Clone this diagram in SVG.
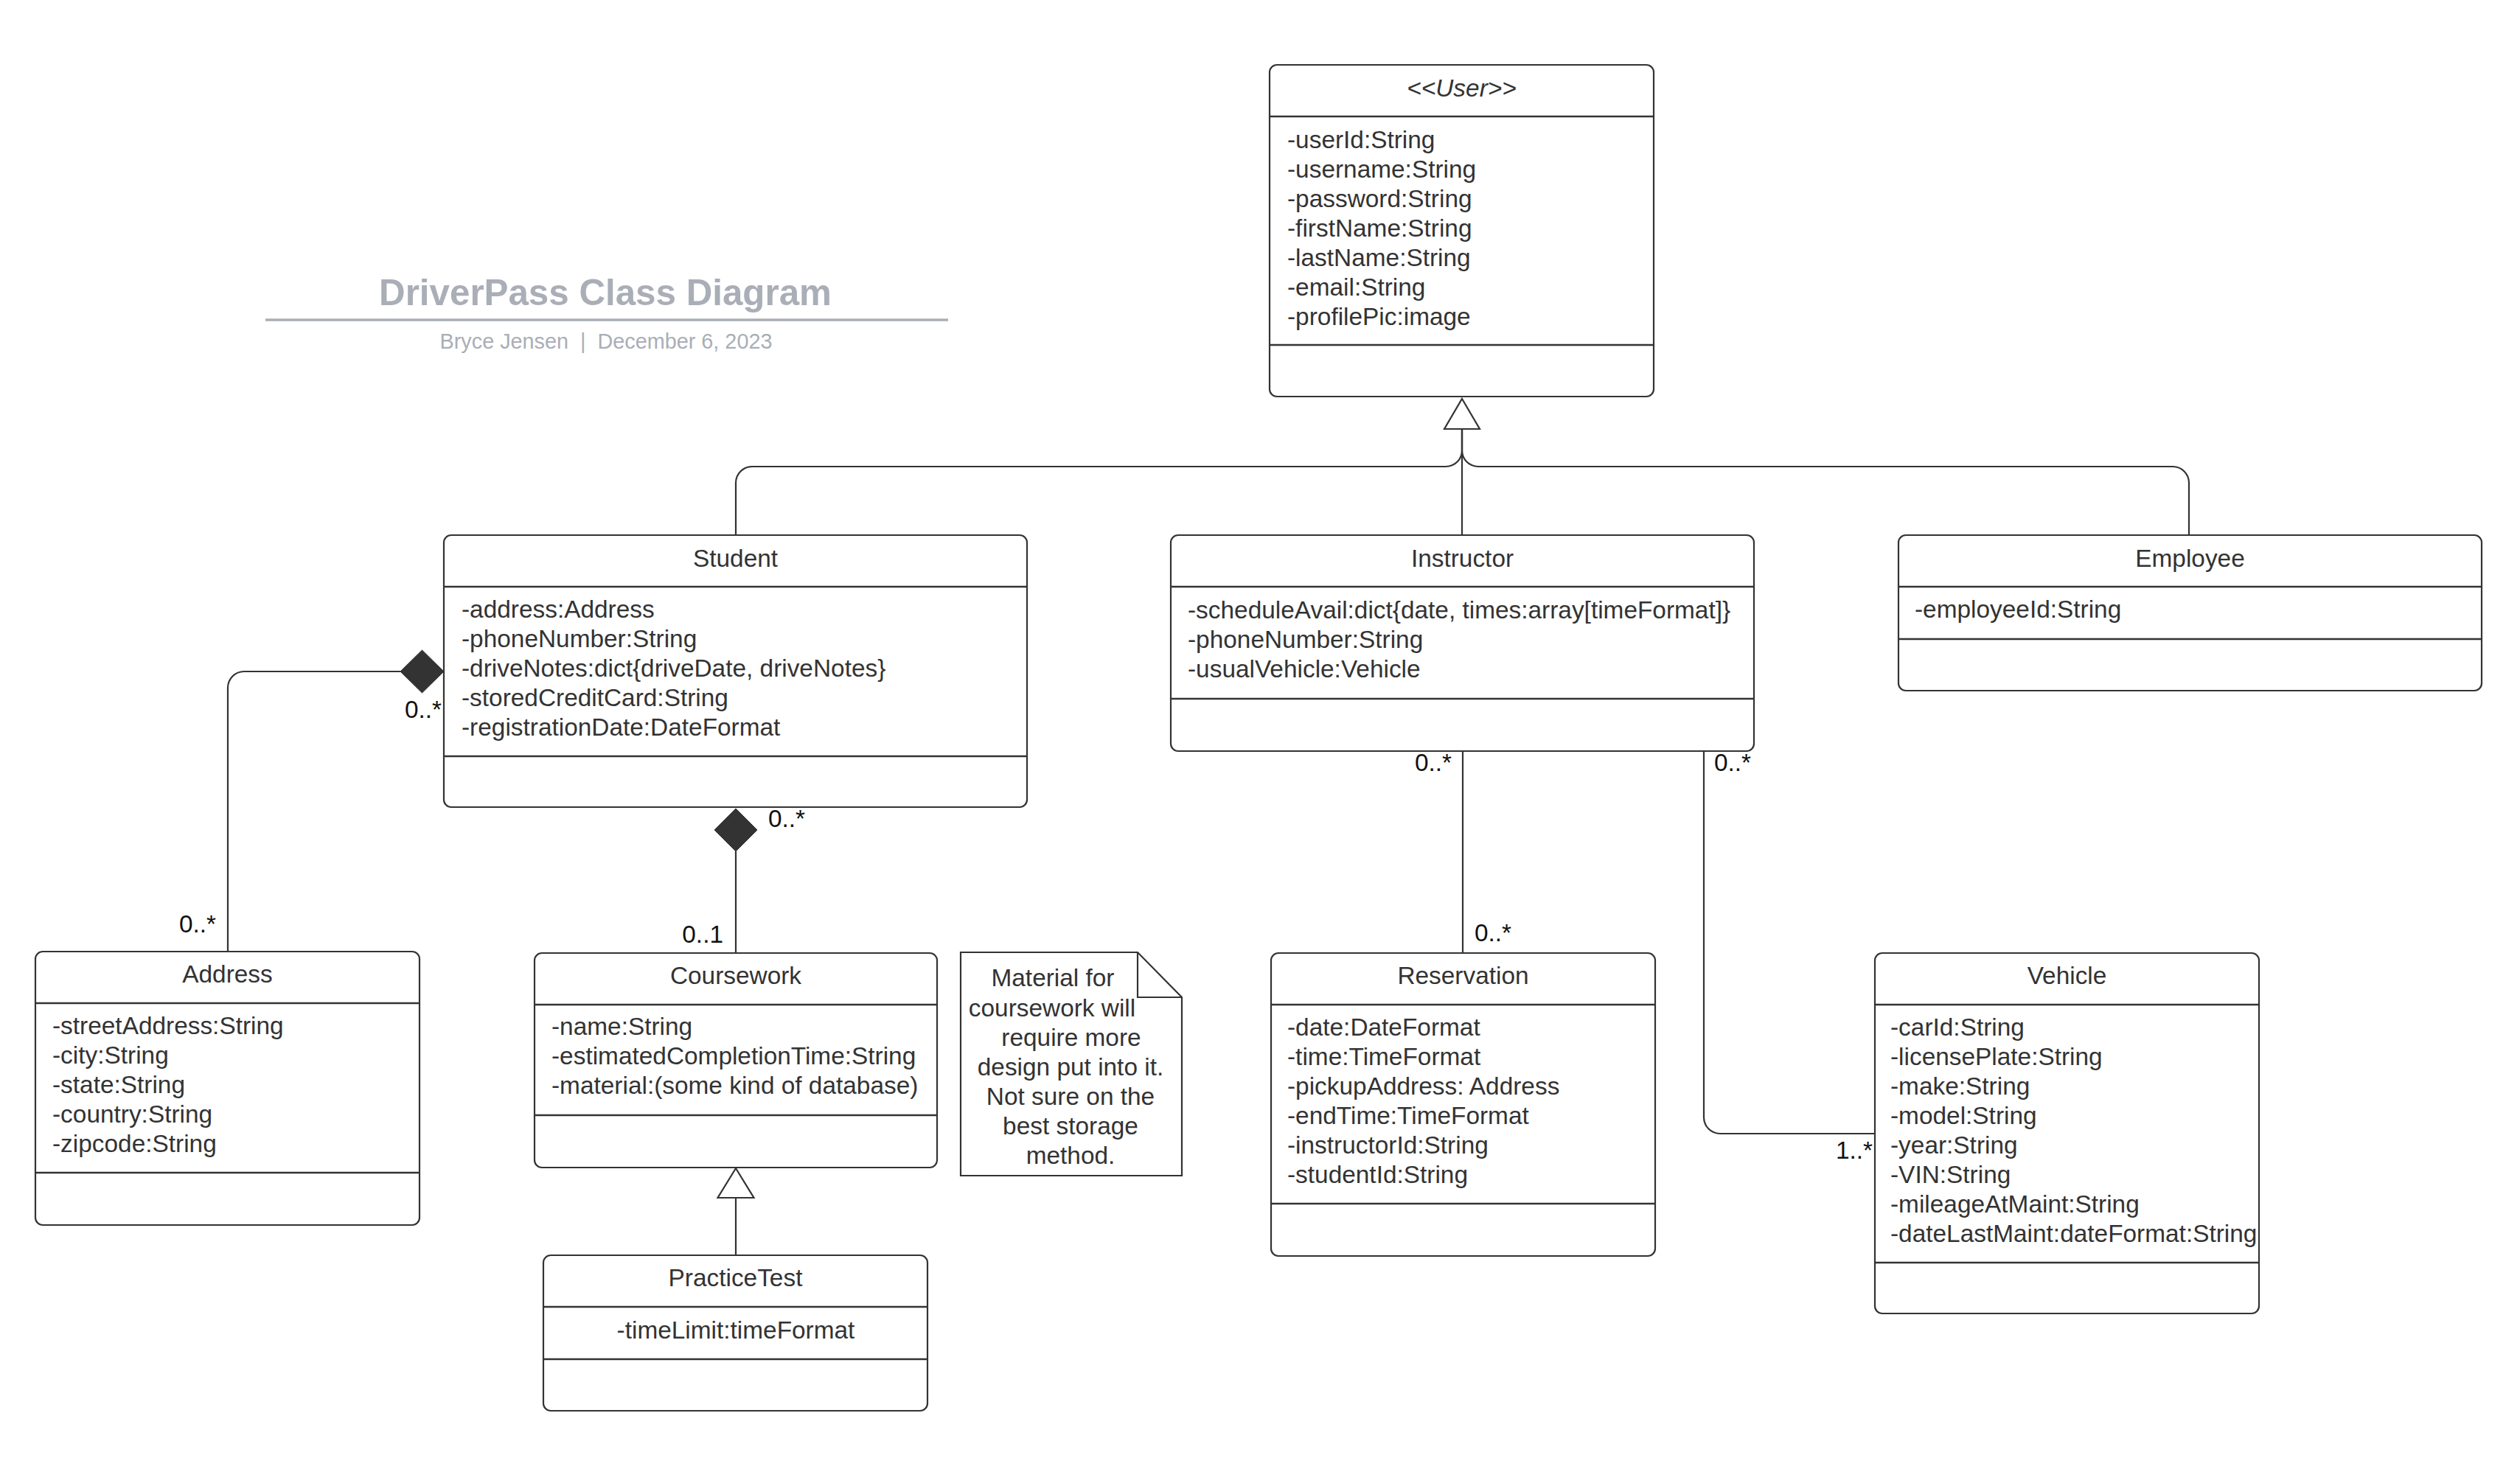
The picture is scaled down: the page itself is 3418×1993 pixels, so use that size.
<svg xmlns="http://www.w3.org/2000/svg" width="3418" height="1993" viewBox="0 0 3418 1993">
<style>
text{font-family:"Liberation Sans",Arial,sans-serif;fill:#333333;font-size:33.4px}
.box{fill:#ffffff;stroke:#333333;stroke-width:2.2}
.sep{stroke:#333333;stroke-width:2.4}
.ttl{text-anchor:middle}
.mid{text-anchor:middle}
.con{fill:none;stroke:#333333;stroke-width:2.2}
.lbl{fill:#111111}
.end{text-anchor:end}
.gen{fill:#ffffff;stroke:#333333;stroke-width:2.2}
.dia{fill:#333333;stroke:#333333;stroke-width:1}
.hd{fill:#a9aeb7}
</style>
<rect width="3418" height="1993" fill="#ffffff"/>

<g id="title">
<text x="821" y="414" text-anchor="middle" class="hd" style="font-size:49.3px;font-weight:bold">DriverPass Class Diagram</text>
<line x1="360" y1="434" x2="1286" y2="434" stroke="#a9aeb7" stroke-width="3.5"/>
<text x="822" y="473" text-anchor="middle" class="hd" style="font-size:28.8px" xml:space="preserve">Bryce Jensen  |  December 6, 2023</text>
</g>

<g id="connectors">
<path class="con" d="M998 726 V655 A22 22 0 0 1 1020 633 H1961 A22 22 0 0 0 1983 611 V582"/>
<path class="con" d="M2969 726 V655 A22 22 0 0 0 2947 633 H2005 A22 22 0 0 1 1983 611 V582"/>
<path class="con" d="M1983 726 V582"/>
<polygon class="gen" points="1983,541 2007,582 1959,582"/>
<path class="con" d="M543 911 H331 A22 22 0 0 0 309 933 V1291"/>
<polygon class="dia" points="602,911 572.5,882 543,911 572.5,940"/>
<path class="con" d="M998 1155 V1293"/>
<polygon class="dia" points="998,1097 1027,1126 998,1155 969,1126"/>
<path class="con" d="M1984 1019 V1293"/>
<path class="con" d="M2311 1019 V1516 A22 22 0 0 0 2333 1538 H2543"/>
<path class="con" d="M998 1625 V1703"/>
<polygon class="gen" points="998,1585 1022.5,1625 973.5,1625"/>
<text class="lbl end" x="599" y="974">0..*</text>
<text class="lbl end" x="293" y="1265">0..*</text>
<text class="lbl" x="1042" y="1122">0..*</text>
<text class="lbl end" x="981" y="1279">0..1</text>
<text class="lbl end" x="1969" y="1046">0..*</text>
<text class="lbl" x="2325" y="1046">0..*</text>
<text class="lbl" x="2000" y="1277">0..*</text>
<text class="lbl end" x="2540" y="1572">1..*</text>
</g>

<g id="User">
<rect class="box" x="1722" y="88" width="521" height="450" rx="10"/>
<line class="sep" x1="1722" y1="158" x2="2243" y2="158"/>
<line class="sep" x1="1722" y1="468" x2="2243" y2="468"/>
<text class="ttl" x="1982.5" y="131" style="font-style:italic">&lt;&lt;User&gt;&gt;</text>
<text x="1746" y="201">-userId:String</text>
<text x="1746" y="241">-username:String</text>
<text x="1746" y="281">-password:String</text>
<text x="1746" y="321">-firstName:String</text>
<text x="1746" y="361">-lastName:String</text>
<text x="1746" y="401">-email:String</text>
<text x="1746" y="441">-profilePic:image</text>
</g>

<g id="Student">
<rect class="box" x="602" y="726" width="791" height="369" rx="10"/>
<line class="sep" x1="602" y1="796" x2="1393" y2="796"/>
<line class="sep" x1="602" y1="1026" x2="1393" y2="1026"/>
<text class="ttl" x="997.5" y="769">Student</text>
<text x="626" y="838">-address:Address</text>
<text x="626" y="878">-phoneNumber:String</text>
<text x="626" y="918">-driveNotes:dict{driveDate, driveNotes}</text>
<text x="626" y="958">-storedCreditCard:String</text>
<text x="626" y="998">-registrationDate:DateFormat</text>
</g>

<g id="Instructor">
<rect class="box" x="1588" y="726" width="791" height="293" rx="10"/>
<line class="sep" x1="1588" y1="796" x2="2379" y2="796"/>
<line class="sep" x1="1588" y1="948" x2="2379" y2="948"/>
<text class="ttl" x="1983.5" y="769">Instructor</text>
<text x="1611" y="839">-scheduleAvail:dict{date, times:array[timeFormat]}</text>
<text x="1611" y="879">-phoneNumber:String</text>
<text x="1611" y="919">-usualVehicle:Vehicle</text>
</g>

<g id="Employee">
<rect class="box" x="2575" y="726" width="791" height="211" rx="10"/>
<line class="sep" x1="2575" y1="796" x2="3366" y2="796"/>
<line class="sep" x1="2575" y1="867" x2="3366" y2="867"/>
<text class="ttl" x="2970.5" y="769">Employee</text>
<text x="2597" y="838">-employeeId:String</text>
</g>

<g id="Address">
<rect class="box" x="48" y="1291" width="521" height="371" rx="10"/>
<line class="sep" x1="48" y1="1361" x2="569" y2="1361"/>
<line class="sep" x1="48" y1="1591" x2="569" y2="1591"/>
<text class="ttl" x="308.5" y="1333">Address</text>
<text x="71" y="1403">-streetAddress:String</text>
<text x="71" y="1443">-city:String</text>
<text x="71" y="1483">-state:String</text>
<text x="71" y="1523">-country:String</text>
<text x="71" y="1563">-zipcode:String</text>
</g>

<g id="Coursework">
<rect class="box" x="725" y="1293" width="546" height="291" rx="10"/>
<line class="sep" x1="725" y1="1363" x2="1271" y2="1363"/>
<line class="sep" x1="725" y1="1513" x2="1271" y2="1513"/>
<text class="ttl" x="998" y="1335">Coursework</text>
<text x="748" y="1404">-name:String</text>
<text x="748" y="1444">-estimatedCompletionTime:String</text>
<text x="748" y="1484">-material:(some kind of database)</text>
</g>

<g id="Note">
<path class="box" d="M1303 1292 H1543 L1603 1353 V1595 H1303 Z"/>
<path class="con" d="M1543 1292 V1353 H1603"/>
<text class="mid" x="1428" y="1338">Material for</text>
<text class="mid" x="1427" y="1379">coursework will</text>
<text class="mid" x="1453" y="1419">require more</text>
<text class="mid" x="1452" y="1459">design put into it.</text>
<text class="mid" x="1452" y="1499">Not sure on the</text>
<text class="mid" x="1452" y="1539">best storage</text>
<text class="mid" x="1452" y="1579">method.</text>
</g>

<g id="PracticeTest">
<rect class="box" x="737" y="1703" width="521" height="211" rx="10"/>
<line class="sep" x1="737" y1="1773" x2="1258" y2="1773"/>
<line class="sep" x1="737" y1="1844" x2="1258" y2="1844"/>
<text class="ttl" x="997.5" y="1745">PracticeTest</text>
<text class="mid" x="998" y="1816">-timeLimit:timeFormat</text>
</g>

<g id="Reservation">
<rect class="box" x="1724" y="1293" width="521" height="411" rx="10"/>
<line class="sep" x1="1724" y1="1363" x2="2245" y2="1363"/>
<line class="sep" x1="1724" y1="1633" x2="2245" y2="1633"/>
<text class="ttl" x="1984.5" y="1335">Reservation</text>
<text x="1746" y="1405">-date:DateFormat</text>
<text x="1746" y="1445">-time:TimeFormat</text>
<text x="1746" y="1485">-pickupAddress: Address</text>
<text x="1746" y="1525">-endTime:TimeFormat</text>
<text x="1746" y="1565">-instructorId:String</text>
<text x="1746" y="1605">-studentId:String</text>
</g>

<g id="Vehicle">
<rect class="box" x="2543" y="1293" width="521" height="489" rx="10"/>
<line class="sep" x1="2543" y1="1363" x2="3064" y2="1363"/>
<line class="sep" x1="2543" y1="1713" x2="3064" y2="1713"/>
<text class="ttl" x="2803.5" y="1335">Vehicle</text>
<text x="2564" y="1405">-carId:String</text>
<text x="2564" y="1445">-licensePlate:String</text>
<text x="2564" y="1485">-make:String</text>
<text x="2564" y="1525">-model:String</text>
<text x="2564" y="1565">-year:String</text>
<text x="2564" y="1605">-VIN:String</text>
<text x="2564" y="1645">-mileageAtMaint:String</text>
<text x="2564" y="1685">-dateLastMaint:dateFormat:String</text>
</g>
</svg>
